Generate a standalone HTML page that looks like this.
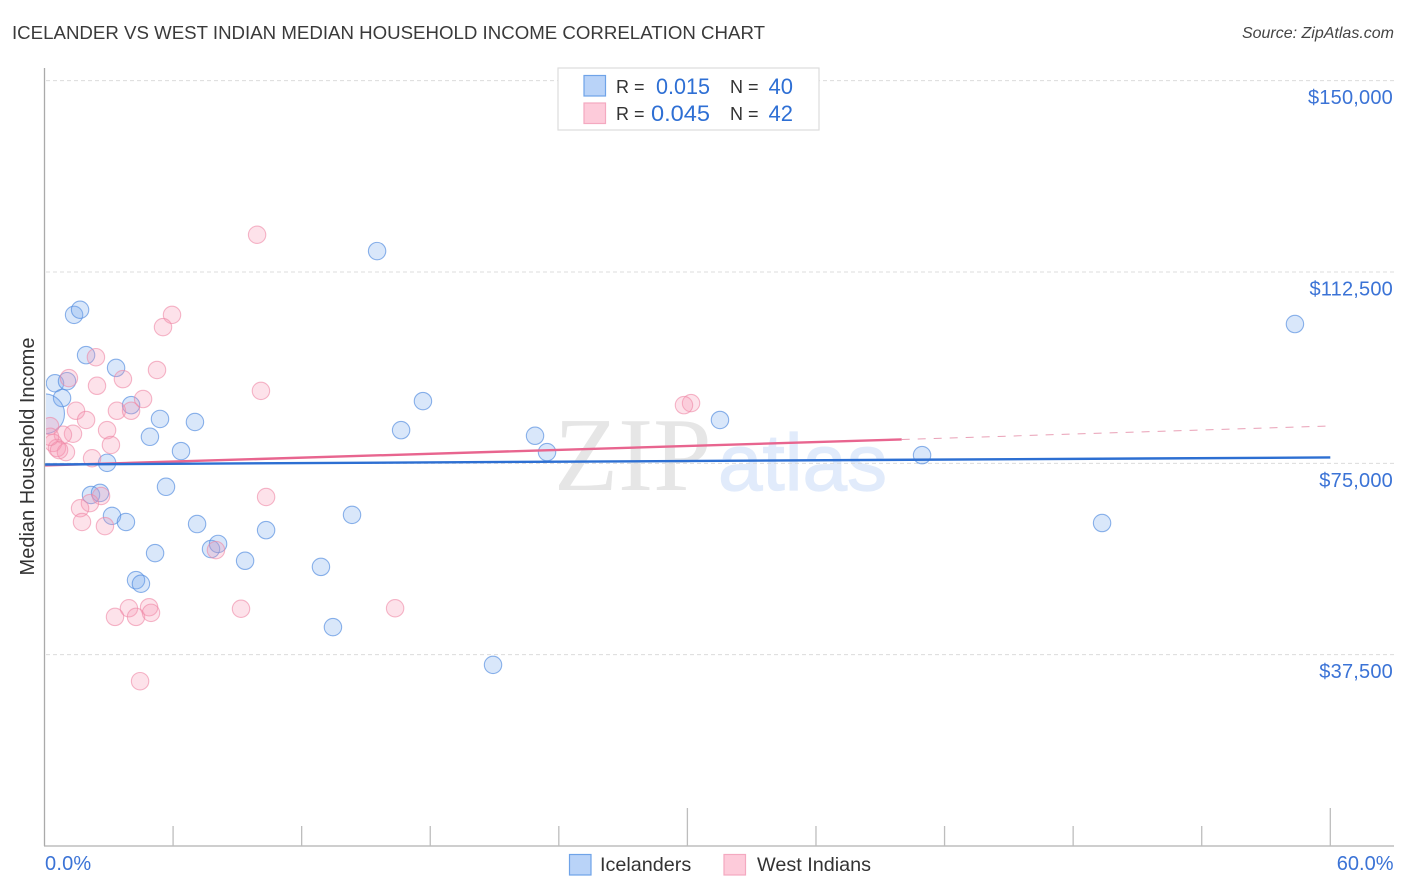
<!DOCTYPE html>
<html>
<head>
<meta charset="utf-8">
<style>
html,body{margin:0;padding:0;background:#fff;width:1406px;height:892px;overflow:hidden}
svg{display:block}
text{font-family:"Liberation Sans",sans-serif}
</style>
</head>
<body>
<svg id="chart" xmlns="http://www.w3.org/2000/svg" width="1406" height="892" viewBox="0 0 1406 892">
  <defs>
    <clipPath id="plot-clip"><rect x="46" y="60" width="1350" height="786"/></clipPath>
  </defs>
  <rect x="0" y="0" width="1406" height="892" fill="#ffffff"/>
  <text x="12" y="39" font-size="18.6" fill="#3a3a3a" textLength="753" lengthAdjust="spacingAndGlyphs">ICELANDER VS WEST INDIAN MEDIAN HOUSEHOLD INCOME CORRELATION CHART</text>
  <text x="1394" y="38" font-size="16" font-style="italic" fill="#444444" text-anchor="end">Source: ZipAtlas.com</text>
  <text x="554" y="490" font-size="105" fill="#e6e6e6" style='font-family:"Liberation Serif",serif'>ZIP</text>
  <text x="718" y="490" font-size="80" fill="#e1ebfb" stroke="#e1ebfb" stroke-width="1.2">atlas</text>
  <g id="grid"></g>
  <g id="points" clip-path="url(#plot-clip)"></g>
  <g id="trends"></g>
  <g id="axes"></g>
  <text transform="translate(34,456.5) rotate(-90)" font-size="20" fill="#333333" text-anchor="middle">Median Household Income</text>

  <g>
    <rect x="558" y="68" width="261" height="62" fill="#ffffff" stroke="#dddddd" stroke-width="1.2"/>
    <rect x="584" y="75.5" width="21.5" height="20.5" fill="#b9d3f8" stroke="#6fa3e8" stroke-width="1.2"/>
    <rect x="584" y="103" width="21.5" height="20.5" fill="#fdcbda" stroke="#f4a9c0" stroke-width="1.2"/>
    <text x="616" y="93" font-size="18" fill="#333333">R =</text>
    <text x="656" y="94" font-size="22" fill="#2e6fd4" textLength="54" lengthAdjust="spacingAndGlyphs">0.015</text>
    <text x="730" y="93" font-size="18" fill="#333333">N =</text>
    <text x="793" y="94" font-size="22" fill="#2e6fd4" text-anchor="end">40</text>
    <text x="616" y="120" font-size="18" fill="#333333">R =</text>
    <text x="651" y="121" font-size="22" fill="#2e6fd4" textLength="59" lengthAdjust="spacingAndGlyphs">0.045</text>
    <text x="730" y="120" font-size="18" fill="#333333">N =</text>
    <text x="793" y="121" font-size="22" fill="#2e6fd4" text-anchor="end">42</text>
  </g>

  <g>
    <rect x="569.5" y="854.5" width="21.5" height="20.5" fill="#b9d3f8" stroke="#6fa3e8" stroke-width="1.2"/>
    <text x="600" y="871" font-size="19.8" fill="#333333">Icelanders</text>
    <rect x="724" y="854.5" width="21.5" height="20.5" fill="#fdcbda" stroke="#f4a9c0" stroke-width="1.2"/>
    <text x="757" y="871" font-size="19.8" fill="#333333">West Indians</text>
  </g>
</svg>
<script>
const icelanderPct = [1.38,1.66,1.94,3.34,0.49,1.05,0.82,0,4.04,5.39,7.02,4.92,6.37,2.92,5.67,2.17,2.59,3.15,3.80,7.12,5.16,7.77,8.10,4.27,4.50,9.36,10.34,12.90,14.35,13.46,15.52,16.64,17.66,20.93,22.89,23.45,31.52,40.95,49.35,58.35];
const icelanderIncome = [104100,105100,96200,93700,90700,91100,87800,84700,86400,83700,83100,80200,77400,75100,70400,68800,69200,64700,63500,63100,57400,58200,59200,52100,51400,55900,61900,54700,64900,42900,116600,81500,87200,35500,80400,77200,83500,76600,63300,102300];
const westIndianPct = [9.92,5.95,5.53,2.40,5.25,1.14,3.66,2.45,4.60,10.10,3.38,4.04,1.47,1.94,30.17,29.84,2.92,1.33,3.10,0.86,0.40,0.58,1.00,0.68,0.26,0.26,2.22,2.64,2.12,1.66,1.75,2.82,10.34,8.00,3.94,3.29,4.27,4.88,4.97,9.17,16.36,4.46];
const westIndianIncome = [119800,104100,101700,95800,93300,91700,91500,90200,87600,89200,85300,85300,85300,83500,86800,86400,81500,80800,78600,80600,79000,78000,77200,77600,82300,80200,76000,68600,67200,66200,63500,62700,68400,58000,46600,44900,44900,46800,45700,46500,46600,32300];
const icelanderTrendPct = [0,60];
const icelanderTrendIncome = [74770,76150];
const westIndianTrendPct = [0,40];
const westIndianTrendIncome = [74580,79680];
const westIndianDashPct = [40,60];
const westIndianDashIncome = [79680,82320];
const yTicks = [150000,112500,75000,37500];
const yTickLabels = ["$150,000","$112,500","$75,000","$37,500"];
const xTicks = [6,12,18,24,30,36,42,48,54,60];
const xEndLabels = ["0.0%","60.0%"];

const NS = "http://www.w3.org/2000/svg";
const xScale = function (p) { return 44.5 + p * 21.43; };
const yScale = function (v) { return 846 - v * 0.0051022; };
function mk(parent, tag, attrs) {
  const el = document.createElementNS(NS, tag);
  for (const k in attrs) el.setAttribute(k, attrs[k]);
  parent.appendChild(el);
  return el;
}
const grid = document.getElementById("grid");
const axes = document.getElementById("axes");
const points = document.getElementById("points");
const trends = document.getElementById("trends");

yTicks.forEach(function (v, i) {
  const line = mk(grid, "line", {x1: 46, x2: 1394, y1: yScale(v), y2: yScale(v), stroke: "#dcdcdc", "stroke-width": 1, "stroke-dasharray": "4 3"});
  
  
  const label = mk(axes, "text", {x: 1393, y: yScale(v) + 23.5, "font-size": 20, "letter-spacing": 0.2, fill: "#3b73d6", "text-anchor": "end"});
  label.textContent = yTickLabels[i];
  
  
});

function drawSeries(xs, ys, fill, stroke, name) {
  xs.forEach(function (p, i) {
    const big = name === 'icelander-point' && i === 7;
    const c = mk(points, "circle", {cx: xScale(p), cy: yScale(ys[i]), r: big ? 20 : 8.7, fill: fill, stroke: stroke, "stroke-width": 1.1});
    
    
  });
}
drawSeries(icelanderPct, icelanderIncome, "rgba(120,168,238,0.28)", "rgba(80,138,222,0.65)", 'icelander-point');
drawSeries(westIndianPct, westIndianIncome, "rgba(248,150,180,0.28)", "rgba(238,135,165,0.6)", 'west-indian-point');

const pinkLine = mk(trends, "line", {x1: xScale(westIndianTrendPct[0]), x2: xScale(westIndianTrendPct[1]), y1: yScale(westIndianTrendIncome[0]), y2: yScale(westIndianTrendIncome[1]), stroke: "#e8658f", "stroke-width": 2.4});


const pinkDash = mk(trends, "line", {x1: xScale(westIndianDashPct[0]), x2: xScale(westIndianDashPct[1]), y1: yScale(westIndianDashIncome[0]), y2: yScale(westIndianDashIncome[1]), stroke: "#e9a0b6", "stroke-width": 1, "stroke-dasharray": "8 8"});


const blueLine = mk(trends, "line", {x1: xScale(icelanderTrendPct[0]), x2: xScale(icelanderTrendPct[1]), y1: yScale(icelanderTrendIncome[0]), y2: yScale(icelanderTrendIncome[1]), stroke: "#2d6fd2", "stroke-width": 2.4});



const yAxis = mk(axes, "line", {x1: 44.5, x2: 44.5, y1: 68, y2: 846, stroke: "#aaaaaa", "stroke-width": 1.3});


const xAxis = mk(axes, "line", {x1: 44, x2: 1394, y1: 846, y2: 846, stroke: "#b0b0b0", "stroke-width": 1.3});



xTicks.forEach(function (p) {
  const major = p % 30 === 0;
  const t = mk(axes, "line", {x1: xScale(p), x2: xScale(p), y1: major ? 808 : 826, y2: 846, stroke: "#bdbdbd", "stroke-width": 1.3});
  
  
});

const xStart = mk(axes, "text", {x: 45, y: 870, "font-size": 20, "letter-spacing": 0.2, fill: "#3b73d6"});
xStart.textContent = xEndLabels[0];


const xEnd = mk(axes, "text", {x: 1393.5, y: 870, "font-size": 20, fill: "#3b73d6", "text-anchor": "end"});
xEnd.textContent = xEndLabels[1];


</script>
</body>
</html>
